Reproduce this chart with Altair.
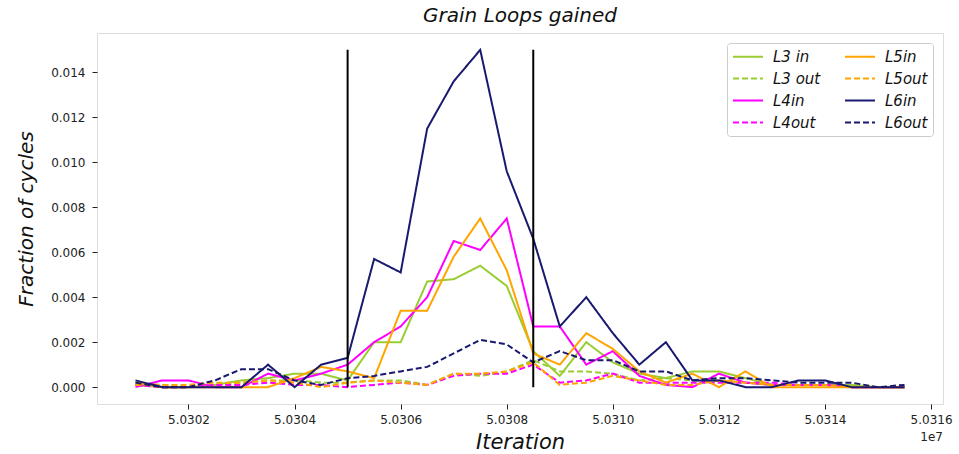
import altair as alt
import pandas as pd

iterations = [50301000 + 500 * i for i in range(30)]

series_names = ["L3 in", "L3 out", "L4in", "L4out", "L5in", "L5out", "L6in", "L6out"]
series_colors = ["#9acd32", "#9acd32", "#ff00ff", "#ff00ff", "#ffa500", "#ffa500", "#191970", "#191970"]
series_dashes = [[1, 0], [6, 3], [1, 0], [6, 3], [1, 0], [6, 3], [1, 0], [6, 3]]

L3_in = [0.0001, 0.0, 0.0, 0.0001, 0.0003, 0.0004, 0.0006, 0.0006, 0.0003, 0.002,
         0.002, 0.0047, 0.0048, 0.0054, 0.0045, 0.0016, 0.0005, 0.002, 0.0011, 0.0006,
         0.0004, 0.0007, 0.0007, 0.0004, 0.0001, 0.0001, 0.0001, 0.0001, 0.0, 0.0]
L3_out = [0.0002, 0.0001, 0.0, 0.0001, 0.0002, 0.0003, 0.0003, 0.0002, 0.0002, 0.0003,
          0.0003, 0.0001, 0.0006, 0.0005, 0.0007, 0.0012, 0.0007, 0.0007, 0.0006, 0.0003,
          0.0004, 0.0003, 0.0003, 0.0002, 0.0001, 0.0001, 0.0001, 0.0001, 0.0, 0.0]
L4_in = [0.0, 0.0003, 0.0003, 0.0, 0.0, 0.0006, 0.0003, 0.0006, 0.001, 0.002,
         0.0027, 0.004, 0.0065, 0.0061, 0.0075, 0.0027, 0.0027, 0.001, 0.0016, 0.0005,
         0.0001, 0.0, 0.0006, 0.0002, 0.0001, 0.0001, 0.0001, 0.0, 0.0, 0.0]
L4_out = [0.0001, 0.0, 0.0, 0.0001, 0.0001, 0.0002, 0.0001, 0.0001, 0.0, 0.0001,
          0.0002, 0.0001, 0.0005, 0.0006, 0.0006, 0.001, 0.0002, 0.0003, 0.0006, 0.0002,
          0.0002, 0.0002, 0.0002, 0.0002, 0.0002, 0.0001, 0.0001, 0.0, 0.0, 0.0]
L5_in = [0.0002, 0.0, 0.0, 0.0, 0.0, 0.0, 0.0004, 0.0009, 0.0007, 0.0004,
         0.0034, 0.0034, 0.0058, 0.0075, 0.0052, 0.0015, 0.001, 0.0024, 0.0017, 0.0007,
         0.0002, 0.0006, 0.0, 0.0007, 0.0, 0.0, 0.0, 0.0, 0.0, 0.0]
L5_out = [0.0001, 0.0001, 0.0001, 0.0002, 0.0002, 0.0003, 0.0002, 0.0, 0.0002, 0.0003,
          0.0002, 0.0001, 0.0006, 0.0006, 0.0007, 0.0011, 0.0001, 0.0002, 0.0005, 0.0003,
          0.0001, 0.0001, 0.0003, 0.0002, 0.0001, 0.0001, 0.0001, 0.0, 0.0, 0.0]
L6_in = [0.0003, 0.0, 0.0, 0.0, 0.0, 0.001, 0.0, 0.001, 0.0013, 0.0057,
         0.0051, 0.0115, 0.0136, 0.015, 0.0096, 0.0066, 0.0027, 0.004, 0.0024, 0.001,
         0.002, 0.0003, 0.0003, 0.0, 0.0, 0.0003, 0.0003, 0.0, 0.0, 0.0]
L6_out = [0.0002, 0.0, 0.0, 0.0003, 0.0008, 0.0008, 0.0003, 0.0001, 0.0004, 0.0005,
          0.0007, 0.0009, 0.0015, 0.0021, 0.0019, 0.0011, 0.0016, 0.0012, 0.0012, 0.0007,
          0.0007, 0.0003, 0.0004, 0.0004, 0.0003, 0.0002, 0.0002, 0.0002, 0.0, 0.0001]

vline_x = [50305000, 50308500]
vline_top = 0.015

x_ticks = [50302000, 50304000, 50306000, 50308000, 50310000, 50312000, 50314000, 50316000]
y_ticks = [0.0, 0.002, 0.004, 0.006, 0.008, 0.010, 0.012, 0.014]

series_values = {
    "L3 in": L3_in, "L3 out": L3_out, "L4in": L4_in, "L4out": L4_out,
    "L5in": L5_in, "L5out": L5_out, "L6in": L6_in, "L6out": L6_out,
}
rows = []
for k, name in enumerate(series_names):
    for it, v in zip(iterations, series_values[name]):
        rows.append({"iteration": it, "value": v, "series": name, "order": k})
df = pd.DataFrame(rows)

FONT = "DejaVu Sans"
xscale = alt.Scale(domain=[50300275, 50316225], nice=False, zero=False)
yscale = alt.Scale(domain=[-0.00075, 0.01575], nice=False, zero=False)

lines = alt.Chart(df).mark_line(strokeWidth=2).encode(
    x=alt.X("iteration:Q", scale=xscale,
            axis=alt.Axis(values=x_ticks, labelExpr="format(datum.value/1e7, '.4f')",
                          title="Iteration", grid=False, domain=False,
                          tickColor="#222", tickSize=5, labelFontSize=12, labelFont=FONT,
                          labelColor="#222", titleFontSize=21, titleFontStyle="italic",
                          titleFontWeight="normal", titleFont=FONT, titleColor="#111",
                          titlePadding=6, labelPadding=5)),
    y=alt.Y("value:Q", scale=yscale,
            axis=alt.Axis(values=y_ticks, format=".3f", title="Fraction of cycles",
                          grid=False, domain=False, tickColor="#222", tickSize=5,
                          labelFontSize=12, labelFont=FONT, labelColor="#222",
                          labelPadding=7,
                          titleFontSize=20, titleFontStyle="italic", titleFontWeight="normal",
                          titleFont=FONT, titleColor="#111", titlePadding=14)),
    color=alt.Color("series:N", scale=alt.Scale(domain=series_names, range=series_colors),
                    legend=alt.Legend(title=None, orient="none", legendX=630, legendY=10,
                                      columns=2, symbolType="M-1,0H3", symbolSize=225,
                                      symbolStrokeWidth=2, labelFontSize=15, labelOffset=24,
                                      labelFontStyle="italic", labelFont=FONT,
                                      labelColor="#111", strokeColor="#cccccc",
                                      fillColor="white", padding=5, cornerRadius=3,
                                      rowPadding=5, columnPadding=20)),
    strokeDash=alt.StrokeDash("series:N", scale=alt.Scale(domain=series_names, range=series_dashes),
                              legend=alt.Legend(title=None)),
    detail="series:N",
    order="order:Q",
)

vdf = pd.DataFrame({"x": vline_x, "y": [0.0] * len(vline_x), "y2": [vline_top] * len(vline_x)})
vlines = alt.Chart(vdf).mark_rule(color="black", strokeWidth=2).encode(
    x=alt.X("x:Q", scale=xscale), y=alt.Y("y:Q", scale=yscale), y2="y2:Q")

offset_df = pd.DataFrame({"t": ["1e7"]})
offset_txt = alt.Chart(offset_df).mark_text(align="right", baseline="middle", fontSize=12,
                                            font=FONT, color="#222").encode(
    text="t:N", x=alt.value(846), y=alt.value(404))

chart = alt.layer(lines, vlines, offset_txt).properties(
    width=846, height=371,
    title=alt.TitleParams("Grain Loops gained", fontSize=20, fontStyle="italic",
                          fontWeight="normal", font=FONT, color="#111", offset=7),
    autosize=alt.AutoSizeParams(type="none"),
    padding={"left": 97, "top": 33, "right": 16, "bottom": 50},
).configure_view(stroke="#222", strokeWidth=1.2).configure(background="white")

chart.save("out.html", embed_options={"renderer": "svg", "actions": False})
